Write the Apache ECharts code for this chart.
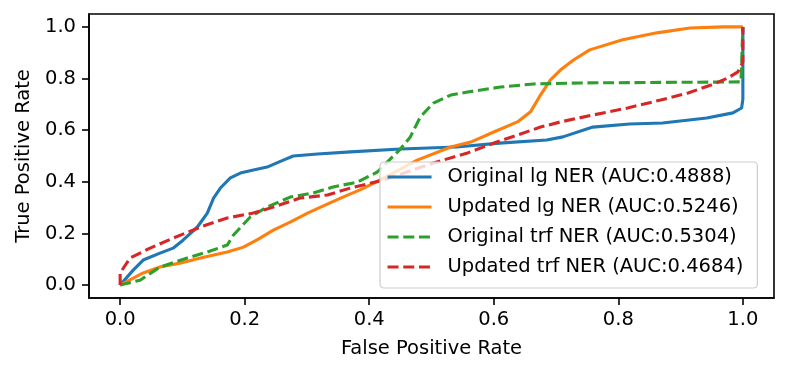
<!DOCTYPE html>
<html>
<head>
<meta charset="utf-8">
<script src="https://cdn.jsdelivr.net/npm/echarts@6/dist/echarts.min.js"></script>
<style>
  html, body { margin: 0; padding: 0; background: #fff; }
  #chart { width: 789px; height: 375px; }
</style>
</head>
<body>
<div id="chart"></div>
<script>
// ROC curves, [fpr, tpr]
var origLg = [
  [0, 0], [0.021, 0.058], [0.037, 0.097], [0.064, 0.124], [0.085, 0.143],
  [0.101, 0.174], [0.124, 0.225], [0.140, 0.279], [0.150, 0.337], [0.161, 0.376],
  [0.177, 0.415], [0.193, 0.434], [0.214, 0.446], [0.236, 0.457], [0.262, 0.484],
  [0.278, 0.500], [0.317, 0.508], [0.370, 0.516], [0.450, 0.527], [0.540, 0.535],
  [0.609, 0.550], [0.685, 0.562], [0.711, 0.574], [0.759, 0.612], [0.818, 0.624],
  [0.871, 0.628], [0.942, 0.647], [0.984, 0.667], [0.998, 0.686], [1, 0.72], [1, 1]
];
var updLg = [
  [0, 0], [0.037, 0.047], [0.064, 0.070], [0.096, 0.085], [0.129, 0.105],
  [0.172, 0.128], [0.198, 0.147], [0.222, 0.178], [0.246, 0.213], [0.273, 0.244],
  [0.301, 0.279], [0.322, 0.302], [0.354, 0.337], [0.386, 0.370], [0.420, 0.410],
  [0.477, 0.484], [0.531, 0.535], [0.563, 0.554], [0.600, 0.593], [0.638, 0.632],
  [0.659, 0.671], [0.675, 0.736], [0.691, 0.795], [0.707, 0.833], [0.728, 0.872],
  [0.754, 0.911], [0.807, 0.950], [0.862, 0.977], [0.915, 0.996], [0.968, 1.0], [1, 1]
];
var origTrf = [
  [0, 0], [0.032, 0.019], [0.064, 0.070], [0.108, 0.105], [0.140, 0.128],
  [0.172, 0.155], [0.182, 0.194], [0.209, 0.264], [0.236, 0.302], [0.273, 0.341],
  [0.310, 0.357], [0.342, 0.380], [0.381, 0.399], [0.413, 0.438], [0.450, 0.527],
  [0.466, 0.574], [0.482, 0.651], [0.503, 0.705], [0.531, 0.736], [0.558, 0.748],
  [0.611, 0.767], [0.664, 0.779], [0.740, 0.783], [0.997, 0.787], [1, 0.787], [1, 1]
];
var updTrf = [
  [0, 0], [0, 0.047], [0.016, 0.105], [0.048, 0.143], [0.085, 0.182],
  [0.129, 0.225], [0.172, 0.260], [0.214, 0.279], [0.246, 0.302], [0.289, 0.337],
  [0.333, 0.349], [0.370, 0.376], [0.423, 0.407], [0.503, 0.473], [0.558, 0.512],
  [0.600, 0.550], [0.638, 0.581], [0.675, 0.612], [0.707, 0.632], [0.760, 0.659],
  [0.815, 0.686], [0.868, 0.717], [0.912, 0.744], [0.949, 0.775], [0.976, 0.802],
  [0.992, 0.826], [1, 0.864], [1, 1]
];
var seriesNames = [
  "Original lg NER (AUC:0.4888)",
  "Updated lg NER (AUC:0.5246)",
  "Original trf NER (AUC:0.5304)",
  "Updated trf NER (AUC:0.4684)"
];
var tickValues = [0, 0.2, 0.4, 0.6, 0.8, 1.0];

var font = "DejaVu Sans";
var dash = [11, 4.7];

function makeLine(name, data, color, dashed) {
  return {
    name: name,
    type: "line",
    data: data,
    symbol: "none",
    smooth: false,
    animation: false,
    color: color,
    lineStyle: { color: color, width: 3.1, type: dashed ? dash : "solid" }
  };
}

function makeAxis(name) {
  return {
    type: "value",
    min: -0.05,
    max: 1.05,
    name: name,
    nameLocation: "middle",
    nameTextStyle: { fontFamily: font, fontSize: 19.5, color: "#000" },
    axisLine: { show: true, onZero: false, lineStyle: { color: "#000", width: 1.6 } },
    axisTick: { show: true, customValues: tickValues, length: 7, lineStyle: { color: "#000", width: 1.6 } },
    axisLabel: {
      customValues: tickValues,
      fontFamily: font, fontSize: 19.5, color: "#000",
      formatter: function (v) { return v.toFixed(1); }
    },
    splitLine: { show: false }
  };
}

var myChart = echarts.init(document.getElementById("chart"));

var xAxis = makeAxis("False Positive Rate");
xAxis.nameGap = 41;
xAxis.axisLabel.margin = 12;

var yAxis = makeAxis("True Positive Rate");
yAxis.nameGap = 55;
yAxis.nameRotate = 90;
yAxis.axisLabel.margin = 13;

myChart.setOption({
  animation: false,
  grid: {
    left: 89, top: 14, width: 685, height: 284,
    show: true, borderColor: "#000", borderWidth: 1.6,
    containLabel: false
  },
  legend: {
    data: seriesNames,
    orient: "vertical",
    left: 380,
    top: 162,
    itemWidth: 44,
    itemHeight: 12,
    itemGap: 10,
    padding: [5, 14, 11, 6],
    backgroundColor: "rgba(255,255,255,0.8)",
    borderColor: "#cccccc",
    borderWidth: 1.2,
    borderRadius: 4,
    itemStyle: { color: "transparent", borderWidth: 0 },
    lineStyle: { width: 3.1 },
    textStyle: { fontFamily: font, fontSize: 19.5, color: "#000", padding: [0, 0, 0, 11] }
  },
  xAxis: xAxis,
  yAxis: yAxis,
  series: [
    makeLine(seriesNames[0], origLg, "#1f77b4", false),
    makeLine(seriesNames[1], updLg, "#ff7f0e", false),
    makeLine(seriesNames[2], origTrf, "#2ca02c", true),
    makeLine(seriesNames[3], updTrf, "#d62728", true)
  ]
});
</script>
</body>
</html>
